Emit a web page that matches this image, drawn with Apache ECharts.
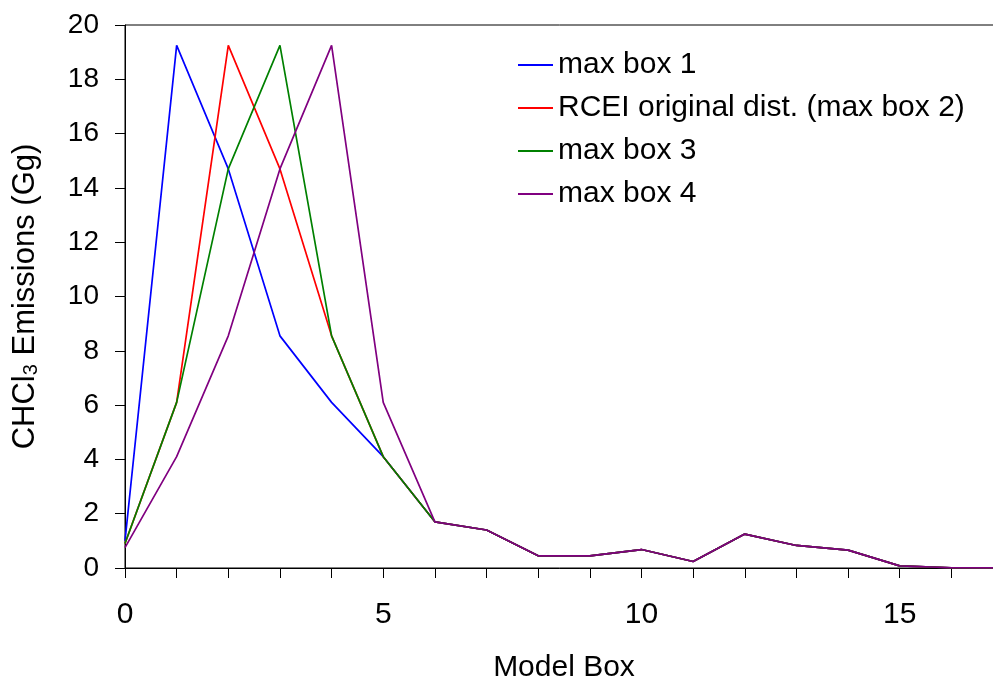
<!DOCTYPE html>
<html>
<head>
<meta charset="utf-8">
<script src="https://cdn.jsdelivr.net/npm/echarts@6/dist/echarts.min.js"></script>
<style>html,body{margin:0;padding:0;background:#fff;}#c{width:993px;height:679px;}</style>
</head>
<body>
<div id="c"></div>
<script>
const boxes = [0,1,2,3,4,5,6,7,8,9,10,11,12,13,14,15,16,17];
const seriesNames = ['max box 1','RCEI original dist. (max box 2)','max box 3','max box 4'];
const seriesColors = ['#0000ff','#ff0000','#008000','#800080'];
const maxBox1 = [1.0,19.25,14.7,8.55,6.1,4.1,1.7,1.4,0.45,0.45,0.68,0.24,1.25,0.83,0.66,0.08,0.01,0];
const maxBox2 = [0.9,6.1,19.25,14.7,8.55,4.1,1.7,1.4,0.45,0.45,0.68,0.24,1.25,0.83,0.66,0.08,0.01,0];
const maxBox3 = [0.9,6.1,14.7,19.25,8.55,4.1,1.7,1.4,0.45,0.45,0.68,0.24,1.25,0.83,0.66,0.08,0.01,0];
const maxBox4 = [0.75,4.1,8.55,14.7,19.25,6.1,1.7,1.4,0.45,0.45,0.68,0.24,1.25,0.83,0.66,0.08,0.01,0];
const allValues = [maxBox1,maxBox2,maxBox3,maxBox4];

const font = "'Liberation Sans', Arial, Helvetica, sans-serif";
const chart = echarts.init(document.getElementById('c'), null, {renderer:'canvas'});
chart.setOption({
  animation:false,
  textStyle:{fontFamily:font},
  grid:{left:125, top:25, right:-10, bottom:111, show:true, borderColor:'#000', borderWidth:1, containLabel:false, outerBoundsMode:'none'},
  legend:{
    orient:'vertical', left:513, top:45, icon:'rect', itemWidth:35, itemHeight:2, itemGap:13,
    textStyle:{fontSize:30, color:'#000', fontFamily:font, lineHeight:30, padding:[0,0,0,0]},
    data:seriesNames
  },
  xAxis:{
    type:'value', min:0, max:17, interval:1,
    name:'Model Box', nameLocation:'middle', nameGap:85,
    nameTextStyle:{fontSize:30, color:'#000', fontFamily:font},
    axisLine:{show:true, lineStyle:{color:'#000', width:1}},
    axisTick:{show:true, length:10, lineStyle:{color:'#000'}},
    axisLabel:{fontSize:30, color:'#000', fontFamily:font, margin:32,
      formatter:function(v){return v%5===0 ? String(v) : '';}},
    splitLine:{show:false}
  },
  yAxis:{
    type:'value', min:0, max:20, interval:2,
    name:'{a|CHCl}{s|3}{a| Emissions (Gg)}', nameLocation:'middle', nameGap:84, nameRotate:90,
    nameTextStyle:{color:'#000', fontFamily:font, rich:{
      a:{fontSize:31, color:'#000', fontFamily:font},
      s:{fontSize:20, color:'#000', fontFamily:font, padding:[12,0,0,0]}
    }},
    axisLine:{show:true, lineStyle:{color:'#000', width:1}},
    axisTick:{show:true, length:10, lineStyle:{color:'#000'}},
    axisLabel:{fontSize:28, color:'#000', fontFamily:font, margin:26},
    splitLine:{show:false}
  },
  series: seriesNames.map(function(n,i){
    return {
      name:n, type:'line', symbol:'none', color:seriesColors[i],
      lineStyle:{width:1.7, color:seriesColors[i]},
      data: boxes.map(function(b,j){return [b, allValues[i][j]];})
    };
  })
});
</script>
</body>
</html>
